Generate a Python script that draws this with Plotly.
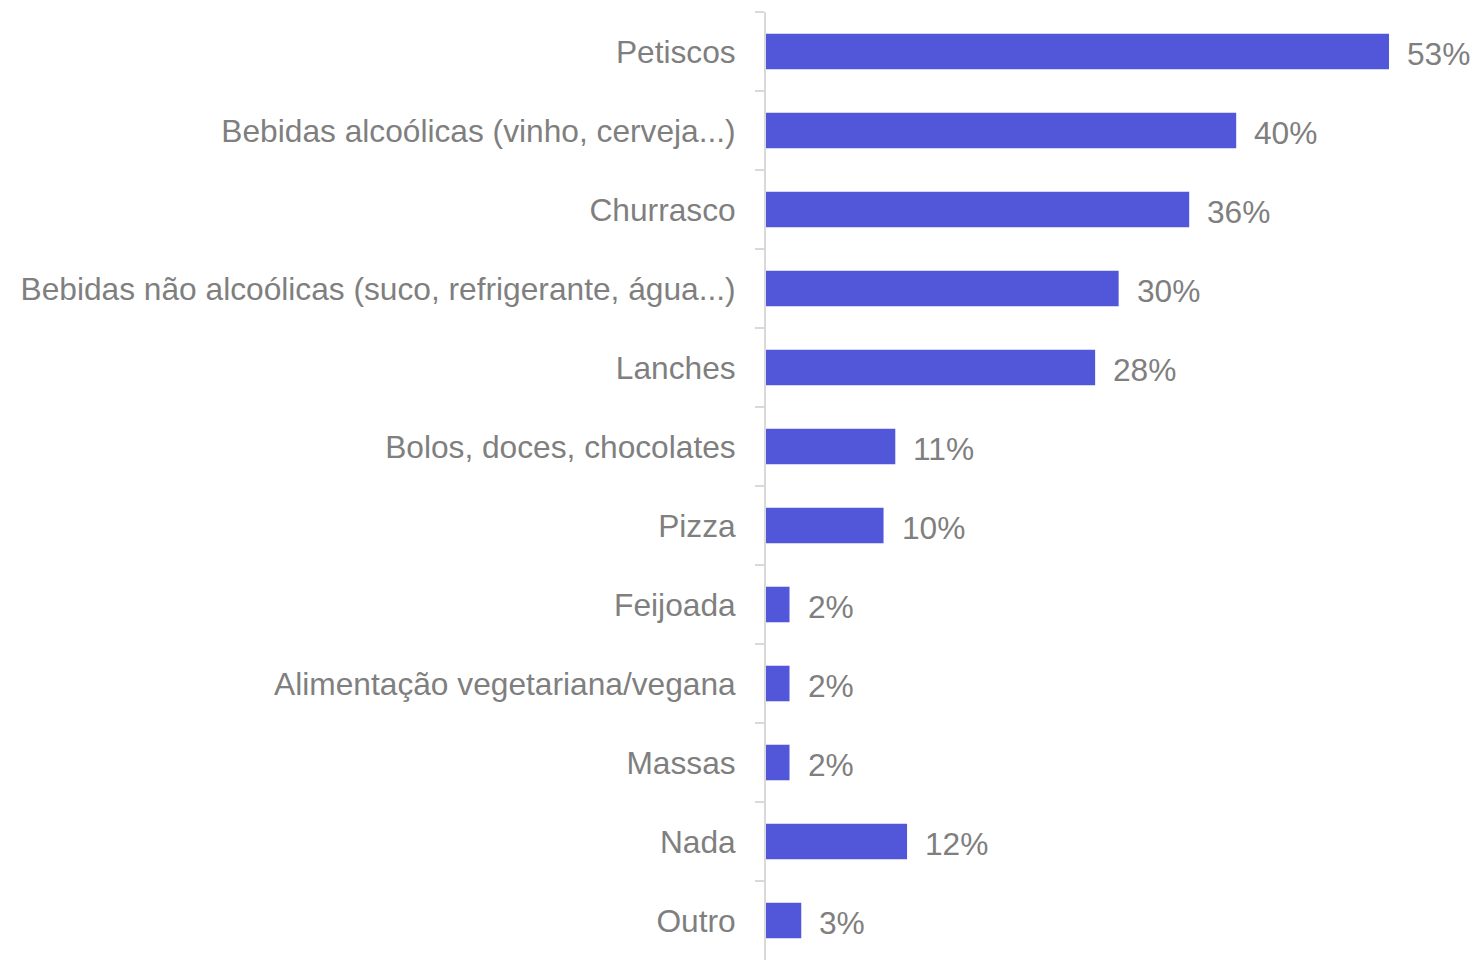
import plotly.graph_objects as go

categories = [
    "Petiscos",
    "Bebidas alcoólicas (vinho, cerveja...)",
    "Churrasco",
    "Bebidas não alcoólicas (suco, refrigerante, água...)",
    "Lanches",
    "Bolos, doces, chocolates",
    "Pizza",
    "Feijoada",
    "Alimentação vegetariana/vegana",
    "Massas",
    "Nada",
    "Outro",
]
values = [53, 40, 36, 30, 28, 11, 10, 2, 2, 2, 12, 3]
value_labels = [f"{v}%" for v in values]

BAR_COLOR = "#5157D8"
TEXT_COLOR = "#7F7F7F"
AXIS_COLOR = "#D9D9D9"
FONT = "Liberation Sans, Arial, sans-serif"
FONT_SIZE = 31.7

fig = go.Figure(
    go.Bar(
        x=values,
        y=categories,
        orientation="h",
        marker=dict(color=BAR_COLOR, line=dict(width=0)),
        hoverinfo="skip",
    )
)

# value labels just past the end of each bar
for cat, v, lab in zip(categories, values, value_labels):
    fig.add_annotation(
        x=v, y=cat, text=lab, showarrow=False,
        xanchor="left", yanchor="middle", xshift=16, yshift=-2,
        font=dict(family=FONT, size=FONT_SIZE, color=TEXT_COLOR),
    )

fig.update_layout(
    width=1476, height=960,
    margin=dict(l=766, r=0, t=12, b=0),
    paper_bgcolor="white", plot_bgcolor="white",
    bargap=0.55,
    showlegend=False,
    font=dict(family=FONT, size=FONT_SIZE, color=TEXT_COLOR),
    xaxis=dict(
        range=[0, 60.4], visible=False, showgrid=False, zeroline=False,
    ),
    yaxis=dict(
        autorange="reversed",
        showline=True, linecolor=AXIS_COLOR, linewidth=2,
        ticks="outside", tickson="boundaries", ticklen=9,
        tickcolor=AXIS_COLOR, tickwidth=2,
        ticklabelstandoff=22,
        tickfont=dict(family=FONT, size=FONT_SIZE, color=TEXT_COLOR),
        showgrid=False, zeroline=False,
    ),
)

fig.write_html("out.html")
